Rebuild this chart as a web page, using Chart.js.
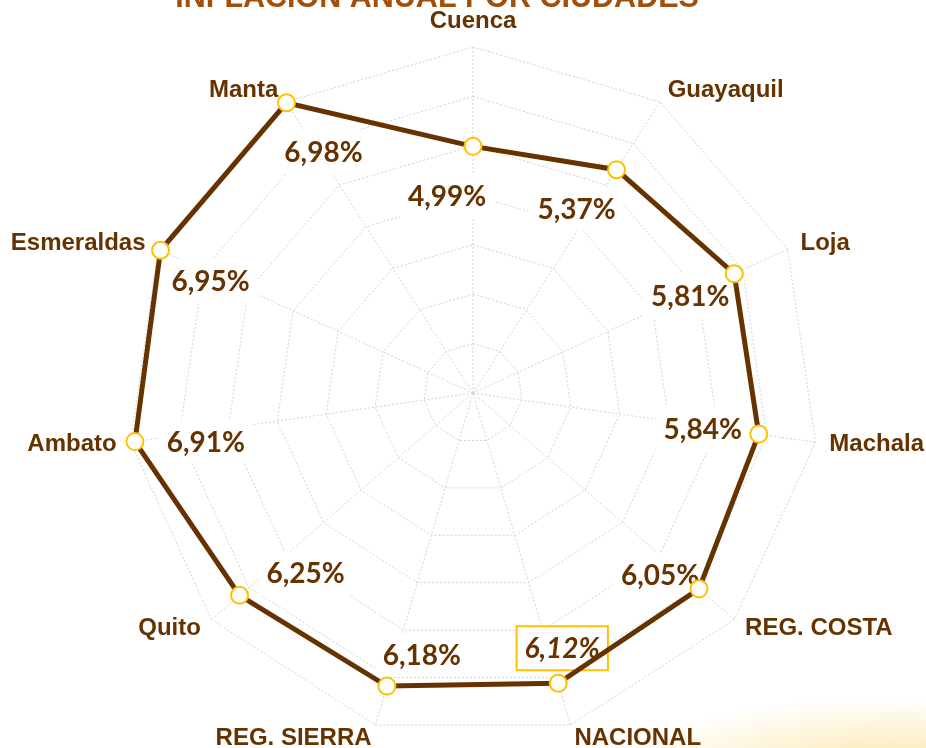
<!DOCTYPE html>
<html>
<head>
<meta charset="utf-8">
<script src="https://cdn.jsdelivr.net/npm/chart.js@4.4.1/dist/chart.umd.min.js"></script>
<style>
html, body { margin: 0; padding: 0; }
body {
    width: 926px; height: 748px; overflow: hidden;
    background:
        radial-gradient(ellipse 300px 80px at 910px 775px, rgba(250, 222, 140, 0.8), rgba(255, 255, 255, 0) 100%),
        #ffffff;
}
#wrap { position: relative; width: 926px; height: 748px; }
</style>
</head>
<body>
<div id="wrap"><canvas id="chartRadar" width="926" height="748"></canvas></div>
<script>
// categorías (ciudades) y valores de inflación anual (%)
var ciudades = ['Cuenca', 'Guayaquil', 'Loja', 'Machala', 'REG. COSTA', 'NACIONAL',
    'REG. SIERRA', 'Quito', 'Ambato', 'Esmeraldas', 'Manta'];
var inflacion = [4.99, 5.37, 5.81, 5.84, 6.05, 6.12, 6.18, 6.25, 6.91, 6.95, 6.98];

// escala radial (sin etiquetas de ticks visibles)
var escalaMin = 0;
var escalaMax = 7;
var escalaPaso = 1;

var titulo = 'INFLACIÓN ANUAL POR CIUDADES';
var destacado = 'NACIONAL';

// desplazamiento de cada etiqueta de valor respecto a su punto
var desplazamientos = [[-26, 50], [-40, 39], [-44, 22], [-56, -5], [-39, -14], [4, -35],
    [35, -31], [66, -22], [71, 0], [50, 31], [37, 49]];

var marron = '#663300';
var dorado = '#ffc000';

function formatoPct(v) {
    return v.toFixed(2).replace('.', ',') + '%';
}

var etiquetasPlugin = {
    id: 'etiquetas',
    // cajas blancas con los valores, debajo de la línea
    beforeDatasetsDraw: function (chart) {
        var ctx = chart.ctx;
        var meta = chart.getDatasetMeta(0);
        ctx.save();
        ctx.textAlign = 'center';
        ctx.textBaseline = 'middle';
        meta.data.forEach(function (pt, i) {
            var x = pt.x + desplazamientos[i][0];
            var y = pt.y + desplazamientos[i][1];
            var txt = formatoPct(inflacion[i]);
            var esDest = ciudades[i] === destacado;
            ctx.font = (esDest ? 'italic ' : '') + 'bold 28px Lato';
            var w = ctx.measureText(txt).width;
            ctx.fillStyle = '#ffffff';
            ctx.fillRect(x - w / 2 - 8, y - 22, w + 16, 44);
            if (esDest) {
                ctx.strokeStyle = dorado;
                ctx.lineWidth = 2;
                ctx.strokeRect(x - w / 2 - 8, y - 22, w + 16, 44);
            }
            ctx.fillStyle = marron;
            ctx.fillText(txt, x, y + 1);
        });
        ctx.restore();
    },
    // nombres de las ciudades y título
    afterDraw: function (chart) {
        var ctx = chart.ctx;
        var scale = chart.scales.r;
        ctx.save();
        ctx.font = 'bold 24px "Liberation Sans", Arial, sans-serif';
        ctx.fillStyle = marron;
        for (var i = 0; i < ciudades.length; i++) {
            var p = scale.getPointPosition(i, scale.drawingArea + 14);
            var dx = p.x - scale.xCenter;
            var dy = p.y - scale.yCenter;
            if (Math.abs(dx) < 5) {
                ctx.textAlign = 'center';
            } else {
                ctx.textAlign = dx > 0 ? 'left' : 'right';
            }
            ctx.textBaseline = (Math.abs(dx) < 5 && dy < 0) ? 'bottom' : 'middle';
            ctx.fillText(ciudades[i], p.x, p.y);
        }
        ctx.font = 'bold 30.5px "Liberation Sans", Arial, sans-serif';
        ctx.fillStyle = '#a24f0c';
        ctx.textAlign = 'center';
        ctx.textBaseline = 'alphabetic';
        ctx.fillText(titulo, chart.width * 0.472, 7);
        ctx.restore();
    }
};

var chart = new Chart(document.getElementById('chartRadar').getContext('2d'), {
    type: 'radar',
    data: {
        labels: ciudades,
        datasets: [{
            label: 'Inflación anual',
            data: inflacion,
            borderColor: marron,
            borderWidth: 5,
            backgroundColor: 'transparent',
            fill: false,
            pointRadius: 8.5,
            pointHoverRadius: 8.5,
            pointBackgroundColor: '#ffffff',
            pointBorderColor: dorado,
            pointBorderWidth: 2
        }]
    },
    options: {
        responsive: false,
        animation: false,
        layout: { padding: { top: 47, bottom: 9, left: 20, right: 0 } },
        plugins: {
            legend: { display: false },
            tooltip: { enabled: false }
        },
        scales: {
            r: {
                min: escalaMin,
                max: escalaMax,
                ticks: { display: false, stepSize: escalaPaso },
                pointLabels: { display: false },
                grid: { color: '#d2d2d2', lineWidth: 1 },
                border: { dash: [2, 2] },
                angleLines: { color: '#d2d2d2', lineWidth: 1, borderDash: [2, 2] }
            }
        }
    },
    plugins: [etiquetasPlugin]
});
</script>
</body>
</html>
